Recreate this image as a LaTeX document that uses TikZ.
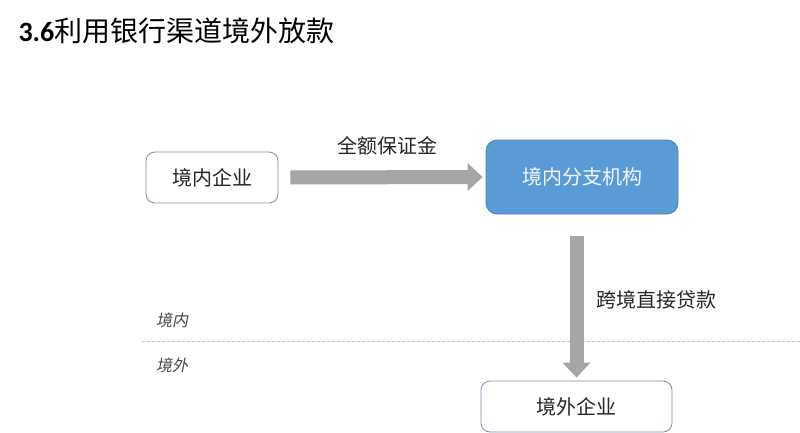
\documentclass[tikz,border=0pt]{standalone}
\usepackage{fontspec}
\setmainfont{Noto Sans CJK SC}
\newfontfamily\latinbold{Carlito}
\newfontfamily\slantcjk[FakeSlant=0.2]{Noto Sans CJK SC}
\usetikzlibrary{arrows.meta}
\definecolor{boxline}{HTML}{7D8FA8}
\definecolor{bluefill}{HTML}{5B9BD5}
\definecolor{blueline}{HTML}{4A82BA}
\definecolor{arrowgray}{HTML}{A5A5A5}
\definecolor{dashline}{HTML}{B4C2D4}
\definecolor{txt}{HTML}{262626}

\begin{document}
\begin{tikzpicture}[x=1pt,y=-1pt]
					\tikzstyle{whitebox}=[draw=boxline,fill=white,rounded corners=9pt,line width=0.8pt,minimum width=132pt,minimum height=51pt,inner sep=0pt,text=txt,font=\fontsize{20pt}{24pt}\selectfont]
					\tikzstyle{bluebox}=[draw=blueline,fill=bluefill,rounded corners=11pt,line width=0.8pt,minimum width=192pt,minimum height=74pt,inner sep=0pt,text=white!92!bluefill,font=\fontsize{20pt}{24pt}\selectfont]
					\tikzstyle{bigarrow}=[draw=arrowgray,line width=14pt,-{Triangle[length=15pt,width=27pt]}]
					\tikzstyle{flowlabel}=[text=txt,font=\fontsize{20pt}{24pt}\selectfont]
					\tikzstyle{sidelabel}=[text=txt!85,font=\slantcjk\fontsize{16pt}{20pt}\selectfont]
					\useasboundingbox (0,0) rectangle (800,433);
					\node[anchor=west,text=black,font=\fontsize{28pt}{32pt}\selectfont] (title) at (15,31) {{\latinbold\bfseries 3.6}利用银行渠道境外放款};
					\node[whitebox,minimum width=132pt] (qy) at (212,177.5) {境内企业};
					\node[bluebox] (fz) at (582,177) {境内分支机构};
					\node[whitebox,minimum width=191pt] (jw) at (576.5,406.5) {境外企业};
					\node[flowlabel] (bzj) at (387,146) {全额保证金};
					\node[flowlabel,anchor=west] (dk) at (593,300) {跨境直接贷款};
					\coordinate (dl) at (142,341);
					\coordinate (dr) at (800,341);
					\draw[dashline,dashed,line width=0.6pt,dash pattern=on 3pt off 2pt] (dl) -- (dr);
					\node[sidelabel] (jn) at (172,320) {境内};
					\node[sidelabel] (jwai) at (172,365) {境外};
					\draw[bigarrow] ([xshift=12pt]qy.east) -- ([xshift=-3pt]fz.west);
					\draw[bigarrow] ([yshift=-22pt]fz.south -| jw.north) -- ([yshift=3pt]jw.north);
					\end{tikzpicture}
\end{document}
